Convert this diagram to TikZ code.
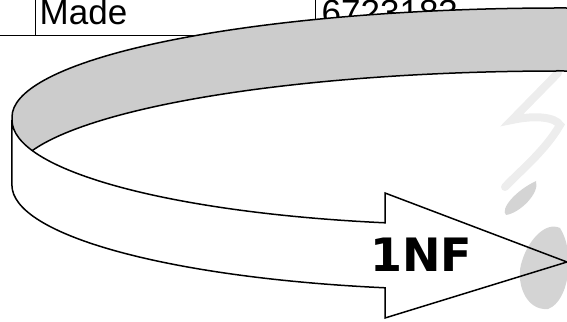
\documentclass[tikz,border=0pt]{standalone}
\usepackage{fontspec}
\setmainfont{Liberation Sans}
\newfontfamily\dejavu{DejaVu Sans}
\begin{document}
\begin{tikzpicture}[x=1pt,y=1pt,
  outline/.style={draw=black, line width=1.5pt, line join=miter},
  tableline/.style={draw=black, line width=1pt},
  celltext/.style={inner sep=0pt, anchor=base west, font=\fontsize{35}{40}\selectfont},
  wmblob/.style={draw=none, fill=black, opacity=0.17},
  wmline/.style={draw=black, opacity=0.07, line cap=round, line width=8pt}]
\useasboundingbox (0,0) rectangle (567,321);
\clip (0,0) rectangle (567,321);
% table fragment
\draw[tableline] (0,285) -- (567,285);
\draw[tableline] (35,321) -- (35,285);
\draw[tableline] (315,321) -- (315,285);
\node[celltext] (made) at (39.5,296) {Made};
\node[celltext] (num) at (321.5,296) {6723183};
% back (gray) part of the curved arrow
\path[outline, fill=black!20]
  (560,204) ++(80:548 and 109) arc[start angle=80, end angle=180, x radius=548, y radius=109]
  -- (12,141) arc[start angle=180, end angle=80, x radius=548, y radius=109] -- cycle;
% front (white) part with the arrow head
\path[outline, fill=white]
  (12,201) arc[start angle=180, end angle=258.3, x radius=468, y radius=105]
  -- (385,128) -- (567,59) -- (385,3) -- (385,33.2)
  arc[start angle=258.3, end angle=180, x radius=468, y radius=105] -- cycle;
\node[inner sep=0pt, anchor=base, font=\dejavu\bfseries\fontsize{46}{50}\selectfont] (nf) at (421,49) {1NF};
% faint watermark on the right
\draw[wmline] (558,248) -- (512,201) .. controls (535,206) and (555,204) .. (560,196)
  .. controls (545,170) and (520,150) .. (505,134);
\fill[wmblob] (536,140) .. controls (540,128) and (520,108) .. (506,106)
  .. controls (500,112) and (515,130) .. cycle;
\fill[wmblob] (560,93) .. controls (575,70) and (570,20) .. (548,12)
  .. controls (525,10) and (515,40) .. (522,60)
  .. controls (528,80) and (545,100) .. cycle;
\end{tikzpicture}
\end{document}
